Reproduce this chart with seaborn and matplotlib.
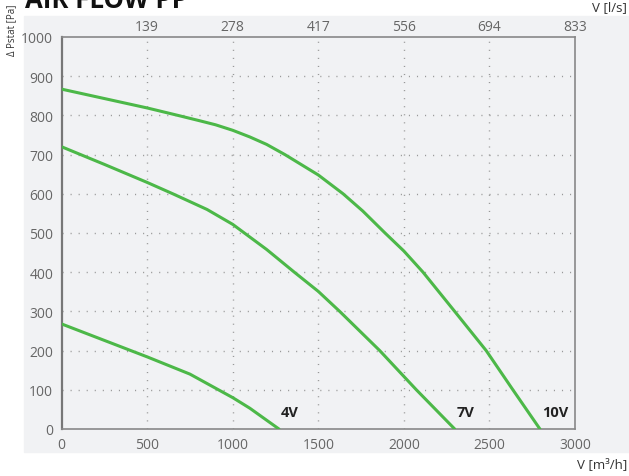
import matplotlib
matplotlib.use('Agg')
import matplotlib.pyplot as plt
import seaborn as sns
import pandas as pd
from matplotlib.patches import Rectangle

# curva 10V
flujo_10v = [0, 250, 500, 680, 810, 900, 1000, 1100, 1198, 1305, 1500, 1645, 1760, 1890, 2000, 2112, 2297, 2481, 2637, 2795]
pres_10v = [867, 843, 819, 800, 786, 776, 762, 745, 726, 700, 648, 600, 556, 500, 454, 400, 300, 200, 100, 0]
# curva 7V
flujo_7v = [0, 250, 500, 650, 850, 1000, 1198, 1360, 1500, 1625, 1859, 2073, 2297]
pres_7v = [720, 675, 629, 600, 560, 522, 458, 400, 351, 300, 200, 100, 0]
# curva 4V
flujo_4v = [0, 250, 500, 750, 1000, 1100, 1270]
pres_4v = [268, 226, 184, 140, 80, 53, 0]

etiquetas = ['4V', '7V', '10V']
pos_etiquetas = [1280, 2308, 2806]

ticks_x = [0, 500, 1000, 1500, 2000, 2500, 3000]
ticks_ls = ['139', '278', '417', '556', '694', '833']
ticks_y = list(range(0, 1001, 100))

df = pd.concat([
    pd.DataFrame({'flujo': flujo_4v, 'pres': pres_4v, 'curva': '4V'}),
    pd.DataFrame({'flujo': flujo_7v, 'pres': pres_7v, 'curva': '7V'}),
    pd.DataFrame({'flujo': flujo_10v, 'pres': pres_10v, 'curva': '10V'}),
])

sns.set_style('white')
plt.rcParams['font.family'] = ['Open Sans', 'DejaVu Sans']

verde = '#4cb848'
gris_txt = '#666666'
fondo = '#f1f2f4'

fig = plt.figure(figsize=(6.29, 4.77), dpi=100)
fig.patches.append(Rectangle((24 / 629, 1 - 453 / 477), 605 / 629, 436 / 477,
                             transform=fig.transFigure, color=fondo, zorder=-10))

ax = fig.add_axes([61.6 / 629, 1 - 430 / 477, (575 - 61.6) / 629, (430 - 38) / 477])
ax.set_facecolor(fondo)
ax.set_zorder(2)

sns.lineplot(data=df, x='flujo', y='pres', units='curva', estimator=None,
             color=verde, linewidth=2.2, sort=False, ax=ax, zorder=3)
for l in ax.lines:
    l.set_solid_joinstyle('round')

ax.set_xlim(0, 3000)
ax.set_ylim(0, 1000)
ax.set_xticks(ticks_x)
ax.set_yticks(ticks_y)
ax.tick_params(length=0, labelsize=10, labelcolor=gris_txt, pad=6)
ax.set_xlabel('')
ax.set_ylabel('')

for v in range(500, 3000, 500):
    ax.axvline(v, color='#999999', linewidth=1, linestyle=(0, (0.8, 5)), zorder=1)
for v in range(100, 1000, 100):
    ax.axhline(v, color='#999999', linewidth=1, linestyle=(0, (0.8, 5)), zorder=1)

for lado in ['top', 'right', 'bottom']:
    ax.spines[lado].set_color('#888888')
    ax.spines[lado].set_linewidth(1.2)
ax.spines['left'].set_color('#777777')
ax.spines['left'].set_linewidth(1.6)

for txt, xp in zip(etiquetas, pos_etiquetas):
    ax.text(xp, 43, txt, fontsize=10.5, fontweight='bold', color='#222222',
            ha='left', va='center', zorder=4)

ax2 = ax.twiny()
ax2.set_xlim(0, 3000)
ax2.set_xticks(ticks_x[1:])
ax2.set_xticklabels(ticks_ls)
ax2.tick_params(length=0, labelsize=10, labelcolor=gris_txt, pad=2)
for lado in ax2.spines.values():
    lado.set_visible(False)

fig.text(25 / 629, 1 - 0 / 477, 'AIR FLOW PP', fontsize=18.5, fontweight='bold',
         color='#111111', ha='left', va='center')
fig.text(12 / 629, 1 - 30 / 477, 'Δ Pstat [Pa]', fontsize=7, rotation=90,
         color='#333333', ha='center', va='center')
fig.text(627 / 629, 1 - 8 / 477, 'V [l/s]', fontsize=9.5, color='#333333',
         ha='right', va='center')
fig.text(627 / 629, 1 - 465 / 477, 'V [m³/h]', fontsize=9.5, color='#333333',
         ha='right', va='center')

fig.savefig('out.png', dpi=100, facecolor='white')
